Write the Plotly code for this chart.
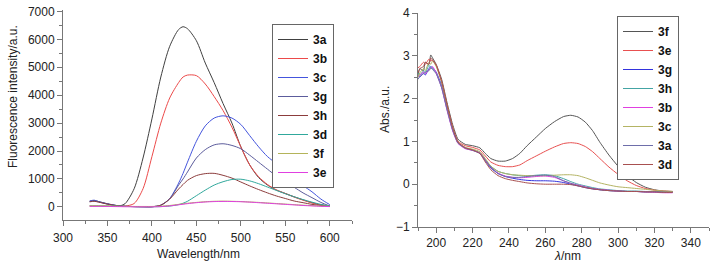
import plotly.graph_objects as go

# ---------------- Fluorescence data (left panel) ----------------
fl_x = [330, 335, 340, 350, 360, 365, 370, 380, 390, 400, 410, 420, 430, 435, 440, 450,
        460, 470, 480, 490, 500, 510, 520, 530, 540, 550, 560, 570, 580, 590, 600]
fl_3a = [200, 230, 190, 110, 50, 45, 120, 650, 1750, 3150, 4650, 5750, 6350, 6450, 6380, 5950,
         5150, 4450, 3700, 3000, 2150, 1500, 1050, 780, 600, 480, 360, 250, 150, 70, 30]
fl_3b = [30, 30, 30, 25, 20, 20, 30, 120, 650, 1800, 3000, 3900, 4450, 4650, 4720, 4700,
         4400, 3950, 3450, 2850, 2150, 1500, 1080, 800, 610, 480, 350, 240, 140, 70, 30]
fl_3c = [210, 240, 190, 110, 50, 35, 20, 10, 5, 5, 60, 300, 850, 1200, 1600, 2350,
         2900, 3180, 3260, 3180, 2950, 2550, 2150, 1800, 1550, 1300, 1000, 760, 540, 280, 80]
fl_3g = [190, 210, 180, 100, 45, 30, 20, 10, 5, 5, 60, 290, 780, 1000, 1250, 1750,
         2050, 2220, 2260, 2200, 2080, 1850, 1600, 1350, 1100, 880, 700, 500, 330, 160, 30]
fl_3h = [180, 200, 170, 100, 45, 30, 20, 10, 5, 5, 60, 280, 640, 800, 950, 1120,
         1190, 1200, 1130, 1030, 890, 750, 620, 500, 390, 300, 210, 150, 90, 50, 20]
fl_3d = [40, 40, 35, 30, 25, 20, 15, 10, 5, 5, 10, 30, 80, 130, 200, 400,
         600, 780, 900, 980, 990, 930, 830, 710, 590, 470, 360, 260, 170, 90, 30]
fl_3f = [40, 40, 35, 30, 25, 20, 20, 15, 15, 15, 25, 50, 90, 110, 130, 160,
         185, 200, 205, 200, 190, 175, 160, 140, 120, 100, 80, 60, 45, 30, 20]
fl_3e = [20, 20, 18, 15, 10, 8, 5, 3, 2, 2, 10, 35, 75, 95, 115, 150,
         175, 190, 195, 192, 185, 170, 150, 130, 110, 90, 70, 50, 35, 20, 10]

fl_names = ["3a", "3b", "3c", "3g", "3h", "3d", "3f", "3e"]
fl_series = [fl_3a, fl_3b, fl_3c, fl_3g, fl_3h, fl_3d, fl_3f, fl_3e]
fl_colors = ["#404040", "#ec4a4a", "#4455dd", "#5c5c9c", "#8c3c3c", "#30a89c", "#b4b45a", "#e040e0"]

# ---------------- Absorbance data (right panel) ----------------
uv_x = [190, 191, 193, 194, 196, 197, 198, 200, 203, 206, 209, 212, 216, 220, 224, 227, 230,
        234, 238, 242, 246, 250, 255, 260, 265, 270, 274, 278, 282, 286, 290, 295, 300,
        305, 310, 315, 320, 325, 330]
uv_3f = [2.55, 2.7, 2.65, 2.85, 2.8, 3.02, 2.95, 2.8, 2.45, 1.9, 1.4, 1.05, 0.93, 0.9, 0.85, 0.72, 0.6,
         0.54, 0.54, 0.6, 0.72, 0.9, 1.1, 1.3, 1.46, 1.58, 1.61, 1.57, 1.45, 1.25, 0.98, 0.68, 0.42,
         0.2, 0.04, -0.07, -0.13, -0.16, -0.17]
uv_3e = [2.72, 2.75, 2.85, 2.8, 2.92, 2.88, 2.9, 2.78, 2.4, 1.85, 1.35, 1.0, 0.9, 0.86, 0.8, 0.66, 0.52,
         0.44, 0.41, 0.41, 0.45, 0.55, 0.66, 0.77, 0.87, 0.95, 0.97, 0.95, 0.88, 0.76, 0.6, 0.4, 0.23,
         0.08, -0.03, -0.1, -0.14, -0.16, -0.17]
uv_3g = [2.55, 2.5, 2.6, 2.55, 2.7, 2.75, 2.72, 2.62, 2.3, 1.78, 1.3, 0.98, 0.85, 0.8, 0.72, 0.55, 0.38,
         0.25, 0.18, 0.14, 0.11, 0.09, 0.08, 0.08, 0.07, 0.04, 0.0, -0.04, -0.08, -0.11, -0.13, -0.15, -0.16,
         -0.17, -0.17, -0.18, -0.18, -0.19, -0.19]
uv_3h = [2.6, 2.55, 2.65, 2.6, 2.78, 2.72, 2.7, 2.6, 2.28, 1.75, 1.28, 0.96, 0.84, 0.8, 0.74, 0.58, 0.42,
         0.3, 0.25, 0.22, 0.2, 0.19, 0.21, 0.22, 0.2, 0.13, 0.06, 0.0, -0.04, -0.08, -0.11, -0.13, -0.15,
         -0.16, -0.16, -0.17, -0.17, -0.18, -0.18]
uv_3b = [2.5, 2.55, 2.62, 2.58, 2.68, 2.7, 2.75, 2.6, 2.25, 1.72, 1.25, 0.95, 0.83, 0.79, 0.73, 0.57, 0.4,
         0.26, 0.19, 0.16, 0.15, 0.16, 0.18, 0.19, 0.16, 0.08, 0.02, -0.02, -0.06, -0.1, -0.12, -0.14, -0.16,
         -0.17, -0.17, -0.18, -0.19, -0.2, -0.2]
uv_3c = [2.5, 2.6, 2.7, 2.65, 2.85, 2.8, 2.88, 2.75, 2.38, 1.82, 1.32, 0.98, 0.86, 0.82, 0.76, 0.6, 0.42,
         0.3, 0.25, 0.22, 0.21, 0.2, 0.2, 0.2, 0.21, 0.22, 0.22, 0.2, 0.15, 0.09, 0.03, -0.02, -0.06,
         -0.08, -0.1, -0.12, -0.14, -0.16, -0.17]
uv_3a = [2.45, 2.52, 2.58, 2.62, 2.65, 2.72, 2.68, 2.58, 2.25, 1.74, 1.27, 0.96, 0.84, 0.79, 0.72, 0.56, 0.4,
         0.25, 0.18, 0.16, 0.16, 0.18, 0.2, 0.21, 0.18, 0.08, 0.02, -0.03, -0.07, -0.1, -0.13, -0.15, -0.16,
         -0.17, -0.17, -0.18, -0.18, -0.19, -0.19]
uv_3d = [2.6, 2.7, 2.75, 2.85, 2.8, 2.95, 2.9, 2.78, 2.4, 1.85, 1.33, 0.98, 0.85, 0.8, 0.72, 0.52, 0.34,
         0.2, 0.13, 0.09, 0.06, 0.03, 0.01, 0.0, 0.0, 0.0, -0.01, -0.04, -0.08, -0.11, -0.13, -0.15, -0.16,
         -0.17, -0.17, -0.18, -0.18, -0.19, -0.19]

uv_names = ["3f", "3e", "3g", "3h", "3b", "3c", "3a", "3d"]
uv_series = [uv_3f, uv_3e, uv_3g, uv_3h, uv_3b, uv_3c, uv_3a, uv_3d]
uv_colors = ["#555555", "#e85050", "#3333dd", "#44a4a4", "#e040e0", "#b4b464", "#6e6eaa", "#a85050"]

W, H = 716, 268
FONT = "Liberation Sans, Arial, sans-serif"

fig = go.Figure()
for name, ys, col in zip(fl_names, fl_series, fl_colors):
    fig.add_trace(go.Scatter(x=fl_x, y=ys, name=name, mode="lines",
                             line=dict(color=col, width=1, shape="spline", smoothing=0.8),
                             xaxis="x", yaxis="y", legend="legend"))
for name, ys, col in zip(uv_names, uv_series, uv_colors):
    fig.add_trace(go.Scatter(x=uv_x, y=ys, name=name, mode="lines",
                             line=dict(color=col, width=1, shape="spline", smoothing=0.5),
                             xaxis="x2", yaxis="y2", legend="legend2"))

def px_x(p):
    return p / W

def px_y(p):
    return 1 - p / H

axis_common = dict(showline=True, linecolor="#777777", linewidth=1, showgrid=False, zeroline=False,
                   ticks="outside", ticklen=5, tickcolor="#777777", automargin=False,
                   tickfont=dict(family=FONT, size=12, color="#222222"))

legend_common = dict(bgcolor="white", bordercolor="#666666", borderwidth=1,
                     font=dict(family=FONT, size=12, color="#111111", weight="bold"),
                     xanchor="left", yanchor="top", tracegroupgap=0, itemwidth=30)

title_font = dict(family=FONT, size=12, color="#222222")

fig.update_layout(
    width=W, height=H, margin=dict(l=0, r=0, t=0, b=0, pad=0, autoexpand=False),
    paper_bgcolor="white", plot_bgcolor="white", showlegend=True,
    xaxis=dict(domain=[px_x(63), px_x(352)], range=[300, 625], anchor="y",
               tickvals=[300, 350, 400, 450, 500, 550, 600], ticklabelstandoff=2,
               minor=dict(dtick=25, tick0=300, ticks="outside", ticklen=3, tickcolor="#777777"),
               **axis_common),
    yaxis=dict(domain=[px_y(220), px_y(10)], range=[-470, 7050], anchor="x",
               tickvals=[0, 1000, 2000, 3000, 4000, 5000, 6000, 7000],
               minor=dict(dtick=500, tick0=0, ticks="outside", ticklen=3, tickcolor="#777777"),
               **axis_common),
    xaxis2=dict(domain=[px_x(418), px_x(709)], range=[190, 350], anchor="y2",
                tickvals=[200, 220, 240, 260, 280, 300, 320, 340],
                minor=dict(dtick=10, tick0=190, ticks="outside", ticklen=3, tickcolor="#777777"),
                **axis_common),
    yaxis2=dict(domain=[px_y(227), px_y(13)], range=[-1, 4], anchor="x2",
                tickvals=[-1, 0, 1, 2, 3, 4],
                minor=dict(dtick=0.5, tick0=0, ticks="outside", ticklen=3, tickcolor="#777777"),
                **axis_common),
    legend=dict(x=px_x(272), y=px_y(24), **legend_common),
    legend2=dict(x=px_x(617), y=px_y(16), **legend_common),
    annotations=[
        dict(text="Fluorescence intensity/a.u.", x=px_x(13), y=px_y(97), xref="paper", yref="paper",
             xanchor="center", yanchor="middle", showarrow=False, textangle=-90, font=title_font),
        dict(text="Wavelength/nm", x=px_x(198), y=px_y(254), xref="paper", yref="paper",
             xanchor="center", yanchor="middle", showarrow=False, font=title_font),
        dict(text="Abs./a.u.", x=px_x(385), y=px_y(110), xref="paper", yref="paper",
             xanchor="center", yanchor="middle", showarrow=False, textangle=-90, font=title_font),
        dict(text="<i>λ</i>/nm", x=px_x(567), y=px_y(256), xref="paper", yref="paper",
             xanchor="center", yanchor="middle", showarrow=False, font=title_font),
    ],
)

fig.write_html("out.html", config={"displayModeBar": False},
               post_script="document.body.style.margin='0px';")
